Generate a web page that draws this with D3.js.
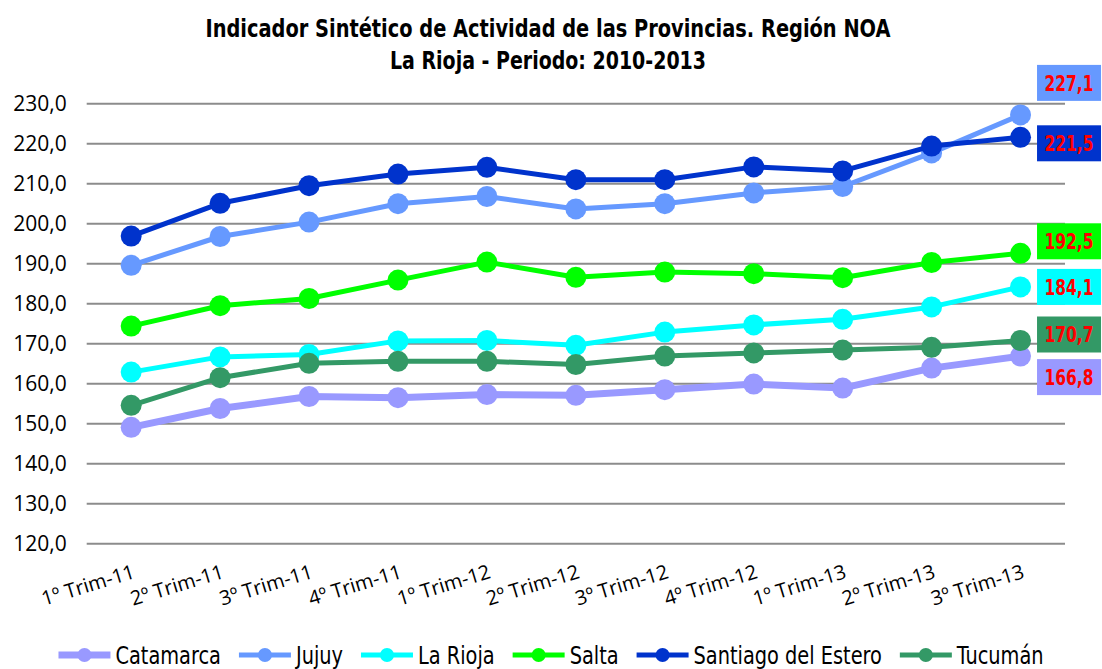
<!DOCTYPE html>
<html>
<head>
<meta charset="utf-8">
<script src="https://cdn.jsdelivr.net/npm/d3@7"></script>
<style>
  body { margin: 0; background: #fff; }
  svg { display: block; }
</style>
</head>
<body>
<div id="chart"></div>
<script>
// data
var categories = ["1º Trim-11", "2º Trim-11", "3º Trim-11", "4º Trim-11", "1º Trim-12", "2º Trim-12",
                  "3º Trim-12", "4º Trim-12", "1º Trim-13", "2º Trim-13", "3º Trim-13"];
var seriesNames = ["Catamarca", "Jujuy", "La Rioja", "Salta", "Santiago del Estero", "Tucumán"];
var catamarca = [149.0, 153.7, 156.7, 156.4, 157.2, 157.0, 158.4, 159.8, 158.8, 163.8, 166.8];
var jujuy     = [189.5, 196.7, 200.3, 204.9, 206.7, 203.6, 204.9, 207.6, 209.2, 217.6, 227.1];
var laRioja   = [162.8, 166.6, 167.2, 170.6, 170.7, 169.5, 172.8, 174.6, 176.0, 179.1, 184.1];
var salta     = [174.3, 179.4, 181.2, 185.8, 190.3, 186.5, 187.8, 187.4, 186.4, 190.2, 192.5];
var santiago  = [196.8, 205.0, 209.4, 212.3, 214.0, 210.9, 210.9, 214.1, 213.1, 219.3, 221.5];
var tucuman   = [154.5, 161.4, 165.0, 165.5, 165.5, 164.7, 166.8, 167.6, 168.3, 169.0, 170.7];
var yTicks = [120, 130, 140, 150, 160, 170, 180, 190, 200, 210, 220, 230];

var colors = ["#9999FF", "#6699FF", "#00FFFF", "#00FF00", "#0033CC", "#339966"];
var lineWidths = [7, 5, 5, 5, 5, 5];
// vertical nudge of the end-value boxes so they don't collide
var labelShift = [21, -32, 0, -12, 6, -6];

var svgWidth = 1102;
var svgHeight = 669;
var margin = { top: 103.3, right: 37, bottom: 125.7, left: 86.7 };
var width = svgWidth - margin.left - margin.right;
var height = svgHeight - margin.top - margin.bottom;

var series = [catamarca, jujuy, laRioja, salta, santiago, tucuman].map(function(vals, i) {
    return { name: seriesNames[i], color: colors[i], lw: lineWidths[i], shift: labelShift[i],
             values: vals.map(function(v, j) { return { cat: categories[j], value: v }; }) };
});

// squeeze text horizontally to mimic the narrow font of the original
function squeeze(sel, ratio) {
    sel.each(function() {
        var w = this.getComputedTextLength();
        d3.select(this).attr("textLength", w * ratio).attr("lengthAdjust", "spacingAndGlyphs");
    });
}

var svg = d3.select("#chart")
    .append("svg")
    .attr("width", svgWidth)
    .attr("height", svgHeight);

var chartGroup = svg.append("g")
    .attr("transform", `translate(${margin.left},${margin.top})`);

var narrow = "'DejaVu Sans Condensed', 'DejaVu Sans', sans-serif";
var axisFont = "'Open Sans', 'Noto Sans', sans-serif";

// title
var title = svg.append("g")
    .style("font-family", narrow)
    .style("font-weight", "bold")
    .style("font-size", "25px")
    .attr("fill", "#000")
    .attr("text-anchor", "middle");
title.append("text").attr("x", 548).attr("y", 37)
    .text("Indicador Sintético de Actividad de las Provincias. Región NOA")
    .attr("textLength", 685).attr("lengthAdjust", "spacingAndGlyphs");
title.append("text").attr("x", 548).attr("y", 69)
    .text("La Rioja - Periodo: 2010-2013")
    .attr("textLength", 316).attr("lengthAdjust", "spacingAndGlyphs");

// scales
var xScale = d3.scalePoint()
    .domain(categories)
    .range([0, width])
    .padding(0.5);

var yScale = d3.scaleLinear()
    .domain([120, 230])
    .range([height, 0]);

// gridlines + y labels
var leftAxis = d3.axisLeft(yScale)
    .tickValues(yTicks)
    .tickSize(-width)
    .tickPadding(20)
    .tickFormat(function(d) { return d3.format(".1f")(d).replace(".", ","); });

var yAxis = chartGroup.append("g").call(leftAxis);
yAxis.select(".domain").remove();
yAxis.selectAll(".tick line").attr("stroke", "#8c8c8c").attr("stroke-width", 2);
yAxis.selectAll(".tick text")
    .style("font-family", axisFont)
    .style("font-size", "21px")
    .attr("fill", "#000");

// x labels
var bottomAxis = d3.axisBottom(xScale).tickSize(0).tickPadding(0);
var xAxis = chartGroup.append("g")
    .attr("transform", `translate(0, ${height})`)
    .call(bottomAxis);
xAxis.select(".domain").remove();
xAxis.selectAll(".tick text")
    .style("font-family", axisFont)
    .style("font-size", "20px")
    .attr("fill", "#000")
    .attr("text-anchor", "end")
    .attr("x", 0)
    .attr("y", 0)
    .attr("dy", "0.75em")
    .attr("transform", "translate(0, 20) rotate(-17)");

// lines and markers
var line = d3.line()
    .x(d => xScale(d.cat))
    .y(d => yScale(d.value));

var seriesGroup = chartGroup.selectAll(".series")
    .data(series)
    .enter()
    .append("g")
    .attr("class", "series");

seriesGroup.append("path")
    .attr("d", d => line(d.values))
    .attr("fill", "none")
    .attr("stroke", d => d.color)
    .attr("stroke-width", d => d.lw)
    .attr("stroke-linejoin", "round");

seriesGroup.selectAll("circle")
    .data(d => d.values.map(v => Object.assign({ color: d.color }, v)))
    .enter()
    .append("circle")
    .attr("cx", d => xScale(d.cat))
    .attr("cy", d => yScale(d.value))
    .attr("r", 10.5)
    .attr("fill", d => d.color);

// end value boxes
var last = categories.length - 1;
var labelGroup = chartGroup.selectAll(".endLabel")
    .data(series)
    .enter()
    .append("g")
    .attr("class", "endLabel")
    .attr("transform", d => `translate(${xScale(categories[last]) + 16.5}, ${yScale(d.values[last].value) + d.shift})`);

labelGroup.append("rect")
    .attr("x", 0)
    .attr("y", -18)
    .attr("width", 64)
    .attr("height", 36)
    .attr("fill", d => d.color);

labelGroup.append("text")
    .attr("x", 32)
    .attr("y", 0)
    .attr("dy", "0.36em")
    .attr("text-anchor", "middle")
    .style("font-family", narrow)
    .style("font-weight", "bold")
    .style("font-size", "22px")
    .attr("fill", "#FF0000")
    .text(d => d3.format(".1f")(d.values[last].value).replace(".", ","))
    .call(squeeze, 0.78);

// legend
var legend = svg.append("g").attr("transform", "translate(0, 655)");
var items = legend.selectAll(".item")
    .data(series)
    .enter()
    .append("g")
    .attr("class", "item");

items.append("line")
    .attr("x1", 0).attr("x2", 52)
    .attr("y1", 0).attr("y2", 0)
    .attr("stroke", d => d.color)
    .attr("stroke-width", d => d.lw);
items.append("circle")
    .attr("cx", 26).attr("cy", 0).attr("r", 7)
    .attr("fill", d => d.color);
items.append("text")
    .attr("x", 57)
    .attr("y", 0)
    .attr("dy", "0.36em")
    .style("font-family", narrow)
    .style("font-size", "25px")
    .attr("fill", "#000")
    .text(d => d.name)
    .call(squeeze, 0.86);

var offsets = [];
var total = 0;
items.each(function(d, i) {
    var w = 57 + (+d3.select(this).select("text").attr("textLength"));
    offsets.push(total);
    total += w + 18;
});
total -= 18;
var startX = 551 - total / 2;
items.attr("transform", (d, i) => `translate(${startX + offsets[i]}, 0)`);
</script>
</body>
</html>
